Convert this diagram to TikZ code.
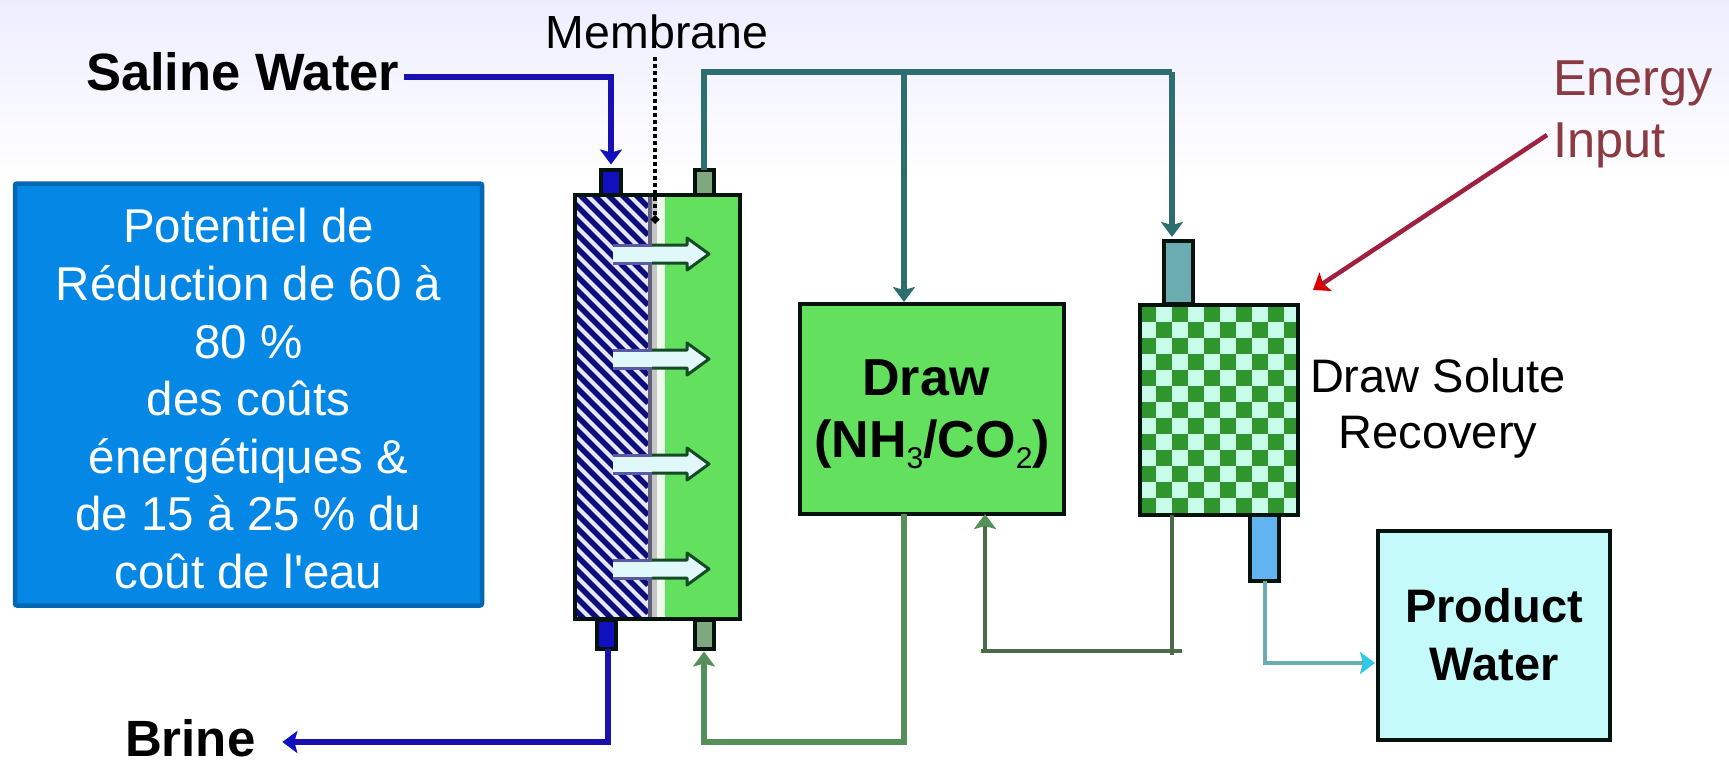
\documentclass[tikz,border=0pt]{standalone}
\usepackage{fontspec}
\setmainfont{Liberation Sans}
\usetikzlibrary{arrows.meta,calc}
\definecolor{bluebox}{HTML}{0587E6}
\definecolor{blueedge}{HTML}{0068B0}
\definecolor{salineblue}{HTML}{1A10B0}
\definecolor{portblue}{HTML}{1010C0}
\definecolor{tealline}{HTML}{2E6E70}
\definecolor{loopgreen}{HTML}{55905A}
\definecolor{darkgreen}{HTML}{4A6A48}
\definecolor{cellgreen}{HTML}{2F962F}
\definecolor{celllight}{HTML}{C8FBE8}
\definecolor{fillgreen}{HTML}{62E05E}
\definecolor{portgreen}{HTML}{80A880}
\definecolor{portteal}{HTML}{6AACB0}
\definecolor{portsky}{HTML}{62B4F0}
\definecolor{prodfill}{HTML}{C4FAFA}
\definecolor{edgedark}{HTML}{04140C}
\definecolor{hatchnavy}{HTML}{0C0C7A}
\definecolor{hatchlight}{HTML}{E6E6FF}
\definecolor{energytext}{HTML}{8A3A40}
\definecolor{redline}{HTML}{A02040}
\definecolor{arrowfill}{HTML}{E0F8FA}
\definecolor{arrowedge}{HTML}{144A24}
\definecolor{cyanhead}{HTML}{30C8E8}
\definecolor{greystrip}{HTML}{606078}
\tikzset{
  boxed/.style={draw=edgedark,line width=4pt,rectangle,inner sep=0pt,outer sep=0pt},
  label/.style={inner sep=0pt,outer sep=0pt,text=black},
  flow/.style={line width=#1,line join=miter},
  tip/.style={-{Stealth[length=15pt,width=22pt,inset=3pt,color=#1]}},
}
\newcommand{\fs}[2]{\fontsize{#1}{#2}\selectfont}
\begin{document}
\begin{tikzpicture}[x=1pt,y=-1pt]
\useasboundingbox (0,0) rectangle (1729,761);
\fill[white] (0,0) rectangle (1729,761);
\shade[top color=blue!7!white,bottom color=white] (0,0) rectangle (1729,180);

% text labels
\node[label,anchor=west,text height=26pt,text depth=0pt,font=\bfseries\fs{52.5}{60}] (saline) at (86,77) {Saline Water};
\node[label,anchor=west,text height=28pt,text depth=0pt,font=\bfseries\fs{51}{60}] (brine) at (125,742) {Brine};
\node[label,anchor=base,font=\fs{46.5}{56}] (membrane) at (657,48) {Membrane};
\node[label,anchor=north west,align=left,text=energytext,font=\fs{50.5}{62}] (energy) at (1553,61) {Energy\\Input};
\node[label,align=center,font=\fs{47}{56}] (recovery) at (1438,408) {Draw Solute\\Recovery};

% blue note
\node[rectangle,rounded corners=2pt,draw=blueedge,line width=4.5pt,fill=bluebox,text=white,minimum width=467pt,minimum height=422pt,inner sep=0pt,align=center,font=\fs{47.5}{57.6}] (note) at (248.5,394.5)
 {\rule{0pt}{43pt}Potentiel de\\Réduction de 60 à\\80 \%\\des coûts\\énergétiques \&\\de 15 à 25 \% du\\coût de l\textquotesingle eau};

% membrane module
\fill[fillgreen] (665,195) rectangle (740,619);
\fill[hatchlight] (575,195) rectangle (648,619);
\begin{scope}
\clip (575,195) rectangle (648,619);
\foreach \s in {120,134,...,620}
  \draw[hatchnavy,line width=5.5pt] (575,\s) -- (648,\s+73);
\end{scope}
\fill[greystrip] (648,195) rectangle (652,619);
\fill[gray!45] (652,195) rectangle (657,619);
\fill[fillgreen!12!white] (657,195) rectangle (665,619);
\node[boxed,minimum width=165pt,minimum height=424pt] (unit) at (657.5,407) {};

% white flux arrows
\foreach \y in {254,359,464,569}{
  \fill[arrowfill] (613,\y-9) -- (687,\y-9) -- (687,\y-16) -- (709,\y) -- (687,\y+16) -- (687,\y+9) -- (613,\y+9) -- cycle;
  \draw[arrowedge,line width=3pt,line join=round] (652,\y-9) -- (687,\y-9) -- (687,\y-16) -- (709,\y) -- (687,\y+16) -- (687,\y+9) -- (652,\y+9);
  \draw[gray!70!blue,line width=3pt] (613,\y-9) -- (652,\y-9) (613,\y+9) -- (652,\y+9);
}

% ports
\node[boxed,fill=portblue,minimum width=20pt,minimum height=25pt] (pa) at (611,182) {};
\node[boxed,fill=portgreen,minimum width=19pt,minimum height=25pt] (pb) at (704,182) {};
\node[boxed,fill=portblue,minimum width=19pt,minimum height=29pt] (pc) at (606.5,634) {};
\node[boxed,fill=portgreen,minimum width=19pt,minimum height=29pt] (pd) at (704,634) {};
\node[boxed,fill=portteal,minimum width=29pt,minimum height=63pt] (pe) at (1178.5,272.5) {};
\node[boxed,fill=portsky,minimum width=29pt,minimum height=66pt] (pf) at (1264.5,548) {};

% draw tank
\node[boxed,fill=fillgreen,minimum width=264pt,minimum height=210pt,align=center,font=\bfseries\fs{52}{62}] (draw) at (932,409)
 {\rule{0pt}{47pt}\hspace*{-12pt}Draw\\(NH\raisebox{-11pt}{\mdseries\fs{30}{30}3}/CO\raisebox{-11pt}{\mdseries\fs{30}{30}2})};

% recovery column with checker
\foreach \i in {0,...,9}{
  \foreach \j in {0,...,12}{
    \pgfmathtruncatemacro{\odd}{mod(\i+\j,2)}
    \ifnum\odd=0 \def\cc{cellgreen}\else\def\cc{celllight}\fi
    \fill[\cc] (1140+16*\i,306+16*\j) rectangle ++(16,16);
  }
}
\node[boxed,minimum width=158pt,minimum height=210pt] (column) at (1219,410) {};

% product
\node[boxed,fill=prodfill,minimum width=232pt,minimum height=209pt,align=center,font=\bfseries\fs{47}{58}] (product) at (1494,635) {Product\\Water};

% routing points
\coordinate (teal1) at (904,72);
\coordinate (teal2) at (1172,72);
\coordinate (drop) at (1172,651);
\coordinate (rise) at (985,651);
\coordinate (cyanlevel) at (1300,663);
\coordinate (redstart) at (1547,135);
\coordinate (redend) at (1313,290);
\coordinate (dottop) at (655,57);
\coordinate (dotend) at (655,224);

% connectors
\draw[flow=6pt,salineblue,tip=portblue,shorten <=5pt,shorten >=5pt] (saline.east) -| (pa.north);
\draw[flow=6pt,salineblue,tip=portblue,shorten >=27pt] (pc.south -| 608,0) |- (brine.east);
\draw[flow=6pt,tealline,line join=miter] (pb.north) |- (teal2);
\draw[flow=6pt,tealline,tip=tealline,shorten >=2pt] (teal1) -- (teal1 |- draw.north);
\draw[flow=6pt,tealline,tip=tealline,shorten >=4pt] (teal2) -- (teal2 |- pe.north);
\draw[flow=6pt,loopgreen,tip=loopgreen,shorten >=3pt] (teal1 |- draw.south) -- (teal1 |- brine.east) -- (pd.south |- brine.east) -- (pd.south);
\draw[flow=3.5pt,darkgreen] (drop |- column.south) -- ($(drop)+(0,4)$);
\draw[flow=3.5pt,darkgreen] ($(drop)+(10,0)$) -- ($(rise)+(-4,0)$);
\draw[flow=3.5pt,darkgreen,tip=loopgreen] (rise) -- (rise |- draw.south);
\draw[flow=4pt,portteal,tip=cyanhead,shorten >=3pt] (pf.south) |- (product.west |- cyanlevel);
\draw[line width=4.5pt,redline,tip=red!85!black] (redstart) -- (redend);
\draw[black,line width=3.5pt,dash pattern=on 3.5pt off 3.5pt,-{Diamond[length=9pt,width=9pt]}] (dottop) -- (dotend);
\end{tikzpicture}
\end{document}
